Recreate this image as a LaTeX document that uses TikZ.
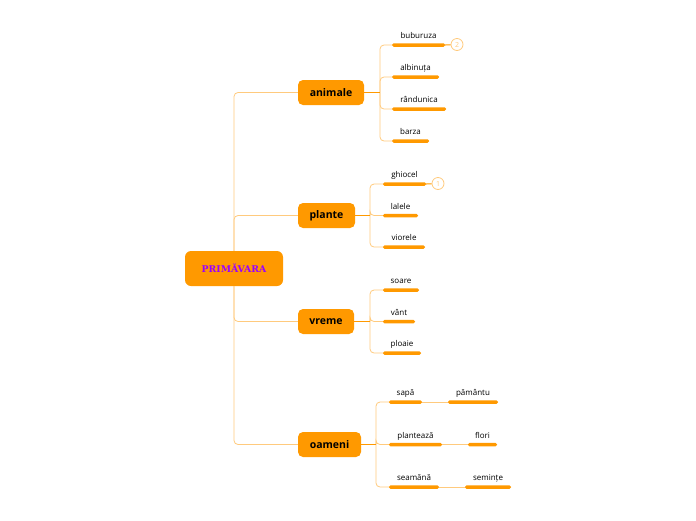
\documentclass[tikz,border=0pt]{standalone}
\usepackage{fontspec}
\setmainfont{Open Sans}
\newfontfamily\rootfont{DejaVu Serif}
\usepackage{tikz}
\usetikzlibrary{positioning}
\definecolor{mOrange}{RGB}{255,153,0}
\definecolor{mPale}{RGB}{255,202,125}
\definecolor{mPurple}{RGB}{153,0,255}
\tikzset{
  topic/.style={fill=mOrange, rounded corners=5pt, minimum height=25pt, inner sep=0pt,
    font=\fontsize{10.5}{12}\selectfont\bfseries},
  bar/.style={fill=mOrange, rounded corners=1.5pt, minimum height=3.5pt, inner sep=0pt},
  leaf/.style={inner sep=0.5pt, text height=6pt, text depth=1.5pt, font=\fontsize{8}{9}\selectfont},
  branch/.style={draw=mPale, line width=0.8pt, rounded corners=4pt},
  stub/.style={draw=mOrange, line width=1pt},
  badge/.style={circle, draw=mPale, text=mPale, line width=0.8pt, minimum size=12pt, inner sep=0pt,
    font=\fontsize{7}{8}\selectfont}
}

\begin{document}
\begin{tikzpicture}[x=1pt, y=-1pt]
    \useasboundingbox (0,0) rectangle (696,520);
    % Root
    \node[fill=mOrange, rounded corners=6pt, minimum width=98pt, minimum height=35pt, inner sep=0pt,
      text=mPurple, font=\rootfont\fontsize{9.3}{11}\selectfont\bfseries] (root) at (234,268.5) {PRIMĂVARA};
    % Topics
    \node[topic, minimum width=66pt] (animale) at (331,92.5) {animale};
    \node[topic, minimum width=57pt] (plante) at (326.5,215.5) {plante};
    \node[topic, minimum width=56pt] (vreme) at (326,321.5) {vreme};
    \node[topic, minimum width=63pt] (oameni) at (329.5,444.5) {oameni};
    % Hubs
    \coordinate (hubA) at (380,92.5);
    \coordinate (hubP) at (370,215.5);
    \coordinate (hubV) at (370,321.5);
    \coordinate (hubO) at (376,444.5);
    % Bars
    \node[bar, minimum width=53pt] (buburuza) at (418.5,45) {};
    \node[bar, minimum width=47pt] (albinuta) at (415.5,77) {};
    \node[bar, minimum width=54pt] (randunica) at (419,109) {};
    \node[bar, minimum width=37pt] (barza) at (410.5,141) {};
    \node[bar, minimum width=43pt] (ghiocel) at (404.5,184) {};
    \node[bar, minimum width=35pt] (lalele) at (400.5,215.5) {};
    \node[bar, minimum width=42pt] (viorele) at (404,247) {};
    \node[bar, minimum width=36pt] (soare) at (401,290) {};
    \node[bar, minimum width=32pt] (vant) at (399,321.5) {};
    \node[bar, minimum width=38pt] (ploaie) at (402,353) {};
    \node[bar, minimum width=33pt] (sapa) at (405.5,402) {};
    \node[bar, minimum width=50pt] (pamantu) at (473,402) {};
    \node[bar, minimum width=53pt] (planteaza) at (415.5,444.5) {};
    \node[bar, minimum width=29pt] (flori) at (482.5,444.5) {};
    \node[bar, minimum width=50pt] (seamana) at (414,487) {};
    \node[bar, minimum width=46pt] (seminte) at (488,487) {};
    % Labels
    \node[leaf, above=2pt of buburuza] (buburuza-t) {buburuza};
    \node[leaf, above=2pt of albinuta] (albinuta-t) {albinuța};
    \node[leaf, above=2pt of randunica] (randunica-t) {rândunica};
    \node[leaf, above=2pt of barza] (barza-t) {barza};
    \node[leaf, above=2pt of ghiocel] (ghiocel-t) {ghiocel};
    \node[leaf, above=2pt of lalele] (lalele-t) {lalele};
    \node[leaf, above=2pt of viorele] (viorele-t) {viorele};
    \node[leaf, above=2pt of soare] (soare-t) {soare};
    \node[leaf, above=2pt of vant] (vant-t) {vânt};
    \node[leaf, above=2pt of ploaie] (ploaie-t) {ploaie};
    \node[leaf, above=2pt of sapa] (sapa-t) {sapă};
    \node[leaf, above=2pt of pamantu] (pamantu-t) {pământu};
    \node[leaf, above=2pt of planteaza] (planteaza-t) {plantează};
    \node[leaf, above=2pt of flori] (flori-t) {flori};
    \node[leaf, above=2pt of seamana] (seamana-t) {seamănă};
    \node[leaf, above=2pt of seminte] (seminte-t) {semințe};
    % Badges
    \node[badge] (nr2) at (457,44.5) {2};
    \node[badge] (nr1) at (438,183.5) {1};
    % Root branches
    \draw[branch] (root) |- (animale);
    \draw[branch] (root) |- (plante);
    \draw[branch] (root) |- (vreme);
    \draw[branch] (root) |- (oameni);
    % Topic branches
    \foreach \t in {buburuza,albinuta,randunica,barza} \draw[branch] (hubA) |- (\t.west);
    \foreach \t in {ghiocel,lalele,viorele} \draw[branch] (hubP) |- (\t.west);
    \foreach \t in {soare,vant,ploaie} \draw[branch] (hubV) |- (\t.west);
    \foreach \t in {sapa,planteaza,seamana} \draw[branch] (hubO) |- (\t.west);
    \draw[stub] (animale) -- (hubA);
    \draw[stub] (plante) -- (hubP);
    \draw[stub] (vreme) -- (hubV);
    \draw[stub] (oameni) -- (hubO);
    % Second level
    \draw[branch] (sapa.east) -- (pamantu.west);
    \draw[branch] (planteaza.east) -- (flori.west);
    \draw[branch] (seamana.east) -- (seminte.west);
    % Badge links
    \draw[stub] (buburuza.east) -- (nr2);
    \draw[stub] (ghiocel.east) -- (nr1);
\end{tikzpicture}
\end{document}
